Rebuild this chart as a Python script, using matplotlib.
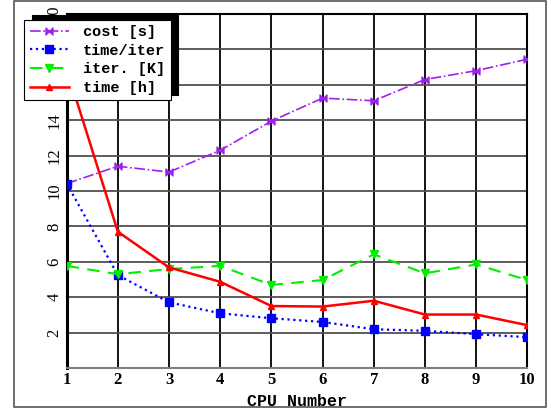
import numpy as np
import matplotlib.pyplot as plt
from matplotlib.path import Path
from matplotlib.patches import Rectangle

cpus = [1, 2, 3, 4, 5, 6, 7, 8, 9, 10]
cost_s = [10.42, 11.4, 11.07, 12.3, 13.95, 15.25, 15.1, 16.3, 16.8, 17.45]
time_per_iter = [10.42, 5.25, 3.71, 3.09, 2.81, 2.6, 2.19, 2.1, 1.91, 1.74]
iter_k = [5.77, 5.3, 5.59, 5.77, 4.69, 4.97, 6.42, 5.35, 5.85, 4.97]
time_h = [16.9, 7.7, 5.68, 4.87, 3.5, 3.47, 3.8, 3.02, 3.02, 2.42]
yticks = [2, 4, 6, 8, 10, 12, 14, 16, 18, 20]

serif_bold = {'family': 'Liberation Serif', 'weight': 'bold'}

# bowtie marker for the cost series
bowtie = Path([(-1, -1), (0, 0), (-1, 1), (-1, -1), (1, -1), (0, 0), (1, 1), (1, -1)],
              [Path.MOVETO, Path.LINETO, Path.LINETO, Path.CLOSEPOLY,
               Path.MOVETO, Path.LINETO, Path.LINETO, Path.CLOSEPOLY])

fig = plt.figure(figsize=(5.51, 4.13), dpi=100)
ax = fig.add_axes([0.121, 0.109, 0.836, 0.857])

# outer frame
fig.patches.append(Rectangle((0.025, 0.014), 0.966, 0.984, transform=fig.transFigure,
                             fill=False, edgecolor='#555555', linewidth=1.2))

ax.plot(cpus, cost_s, color='#a020f0', linestyle='-.', linewidth=1.2,
        marker=bowtie, markersize=5, label='cost [s]', zorder=3)
ax.plot(cpus, time_per_iter, color='#0000ff', linestyle=':', linewidth=1.6,
        marker='s', markersize=5.5, label='time/iter', zorder=3)
ax.plot(cpus, iter_k, color='#00ee00', linestyle=(0, (6, 4)), linewidth=1.5,
        marker='v', markersize=5.5, label='iter. [K]', zorder=3)
ax.plot(cpus, time_h, color='#ff0000', linestyle='-', linewidth=1.8,
        marker='^', markersize=5, label='time [h]', zorder=3)

ax.set_xlim(1, 10)
ax.set_ylim(0, 20)
ax.set_xticks(cpus)
ax.set_yticks(yticks)
ax.set_xticklabels([str(c) for c in cpus], fontdict=serif_bold, fontsize=12)
ax.set_yticklabels([str(t) for t in yticks], fontdict={'family': 'Liberation Serif'},
                   fontsize=12, rotation=90, va='center')
ax.tick_params(length=0, pad=3)

ax.grid(True, axis='x', color='black', linewidth=1.3)
ax.grid(True, axis='y', color='#505050', linewidth=1.3)
for s in ['left', 'right', 'top']:
    ax.spines[s].set_color('black')
    ax.spines[s].set_linewidth(1.5)
ax.spines['bottom'].set_color('#808080')
ax.spines['bottom'].set_linewidth(1.5)
ax.spines['left'].set_linewidth(2.2)

ax.set_xlabel('CPU Number', family='Liberation Mono', weight='bold', fontsize=12, labelpad=4)

leg = ax.legend(loc='upper left', bbox_to_anchor=(0.044, 0.952), bbox_transform=fig.transFigure,
                borderaxespad=0,
                prop={'family': 'Liberation Mono', 'weight': 'bold', 'size': 11},
                numpoints=1, handlelength=2.6, fancybox=False, framealpha=1,
                edgecolor='black', borderpad=0.35, labelspacing=0.3, handletextpad=0.9,
                shadow={'ox': 5.5, 'oy': 3.8, 'color': 'black', 'alpha': 1})
leg.get_frame().set_linewidth(0.8)
leg.set_zorder(10)

plt.savefig('out.png', dpi=100)
